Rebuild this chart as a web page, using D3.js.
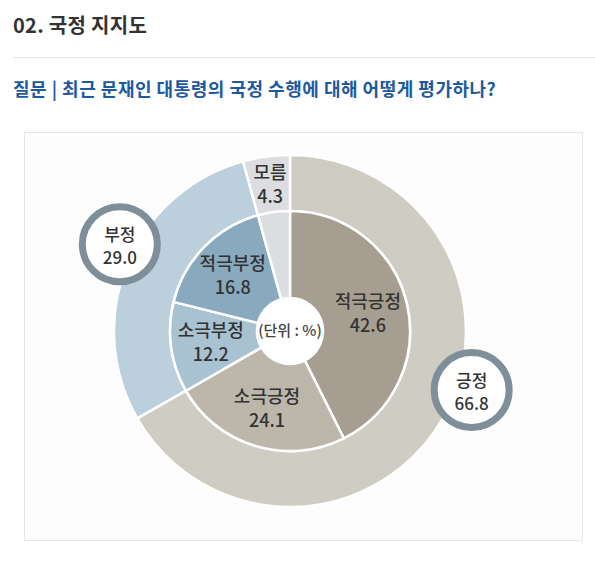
<!DOCTYPE html>
<html>
<head>
<meta charset="utf-8">
<script src="https://cdn.jsdelivr.net/npm/d3@7"></script>
<style>
  body { margin: 0; background: #fff; font-family: "Noto Sans CJK KR", "Noto Sans", sans-serif; }
</style>
</head>
<body>
<script>
// Data
const innerLabels = ["적극긍정", "소극긍정", "소극부정", "적극부정", "모름"];
const innerValues = [42.6, 24.1, 12.2, 16.8, 4.3];
const outerLabels = ["긍정", "부정", "모름"];
const outerValues = [66.8, 29.0, 4.3];
const unitLabel = "(단위 : %)";
const titleText = "02. 국정 지지도";
const questionText = "질문 | 최근 문재인 대통령의 국정 수행에 대해 어떻게 평가하나?";

const innerColors = ["#a69f91", "#bdb7ab", "#a8c2d2", "#88a9be", "#dcdde1"];
const outerColors = ["#cfccc3", "#bccfdc", "#dcdde1"];

const W = 595, H = 570;
const cx = 290, cy = 331;
const rHole = 33, rInner = 120, rOuter = 176;

const svg = d3.select("body").append("svg")
    .attr("width", W)
    .attr("height", H);

// Header
svg.append("text")
    .attr("x", 13).attr("y", 33)
    .style("font-size", "20px")
    .style("font-weight", "700")
    .style("letter-spacing", "0.3px")
    .style("fill", "#333")
    .text(titleText);

svg.append("line")
    .attr("x1", 13).attr("x2", W)
    .attr("y1", 57.5).attr("y2", 57.5)
    .style("stroke", "#e5e5e5");

svg.append("text")
    .attr("x", 13).attr("y", 96)
    .style("font-size", "18px")
    .style("font-weight", "700")
    .style("letter-spacing", "0.5px")
    .style("fill", "#1c5a9f")
    .text(questionText);

// Panel
svg.append("rect")
    .attr("x", 24.5).attr("y", 132.5)
    .attr("width", 558).attr("height", 408)
    .style("fill", "#fdfdfd")
    .style("stroke", "#e6e6e6");

const g = svg.append("g").attr("transform", `translate(${cx},${cy})`);

const pie = d3.pie().sort(null).value(d => d);

// Outer ring
const outerArcs = pie(outerValues);
const outerArc = d3.arc().innerRadius(rInner).outerRadius(rOuter);
g.selectAll(".outer")
    .data(outerArcs)
    .enter().append("path")
    .attr("class", "outer")
    .attr("d", outerArc)
    .style("fill", (d, i) => outerColors[i])
    .style("stroke", "#fff")
    .style("stroke-width", 2.5);

// Inner pie
const innerArcs = pie(innerValues);
const innerArc = d3.arc().innerRadius(rHole).outerRadius(rInner);
g.selectAll(".inner")
    .data(innerArcs)
    .enter().append("path")
    .attr("class", "inner")
    .attr("d", innerArc)
    .style("fill", (d, i) => innerColors[i])
    .style("stroke", "#fff")
    .style("stroke-width", 2.5);

// Centre hole
g.append("circle")
    .attr("r", rHole)
    .style("fill", "#fff");

g.append("text")
    .attr("y", 5)
    .attr("text-anchor", "middle")
    .style("font-size", "15px")
    .style("font-weight", "500")
    .style("fill", "#444")
    .text(unitLabel);

// Labels inside the wedges (모름 sits in the outer ring)
const labelArc = d3.arc().innerRadius(80).outerRadius(80);
const ringArc = d3.arc().innerRadius(148).outerRadius(148);
innerArcs.forEach((d, i) => {
    const pos = i === 4 ? ringArc.centroid(d) : labelArc.centroid(d);
    const t = g.append("text")
        .attr("transform", `translate(${pos[0]},${pos[1]})`)
        .attr("text-anchor", "middle")
        .style("font-size", "18px")
        .style("font-weight", "500")
        .style("fill", "#333");
    t.append("tspan").attr("x", 0).attr("y", -5).text(innerLabels[i]);
    t.append("tspan").attr("x", 0).attr("y", 19).text(innerValues[i].toFixed(1));
});

// Bubbles for the outer ring totals
const bubbleAngles = [108, 297]; // degrees clockwise from top
const bubbleR = 191;
[0, 1].forEach(i => {
    const a = bubbleAngles[i] * Math.PI / 180;
    const bx = Math.sin(a) * bubbleR, by = -Math.cos(a) * bubbleR;
    const b = g.append("g").attr("transform", `translate(${bx},${by})`);
    b.append("circle")
        .attr("r", 37.5)
        .style("fill", "#fff")
        .style("stroke", "#7e8f99")
        .style("stroke-width", 7);
    const t = b.append("text")
        .attr("text-anchor", "middle")
        .style("font-size", "17px")
        .style("font-weight", "500")
        .style("fill", "#333");
    t.append("tspan").attr("x", 0).attr("y", -3).text(outerLabels[i]);
    t.append("tspan").attr("x", 0).attr("y", 20).text(outerValues[i].toFixed(1));
});
</script>
</body>
</html>
